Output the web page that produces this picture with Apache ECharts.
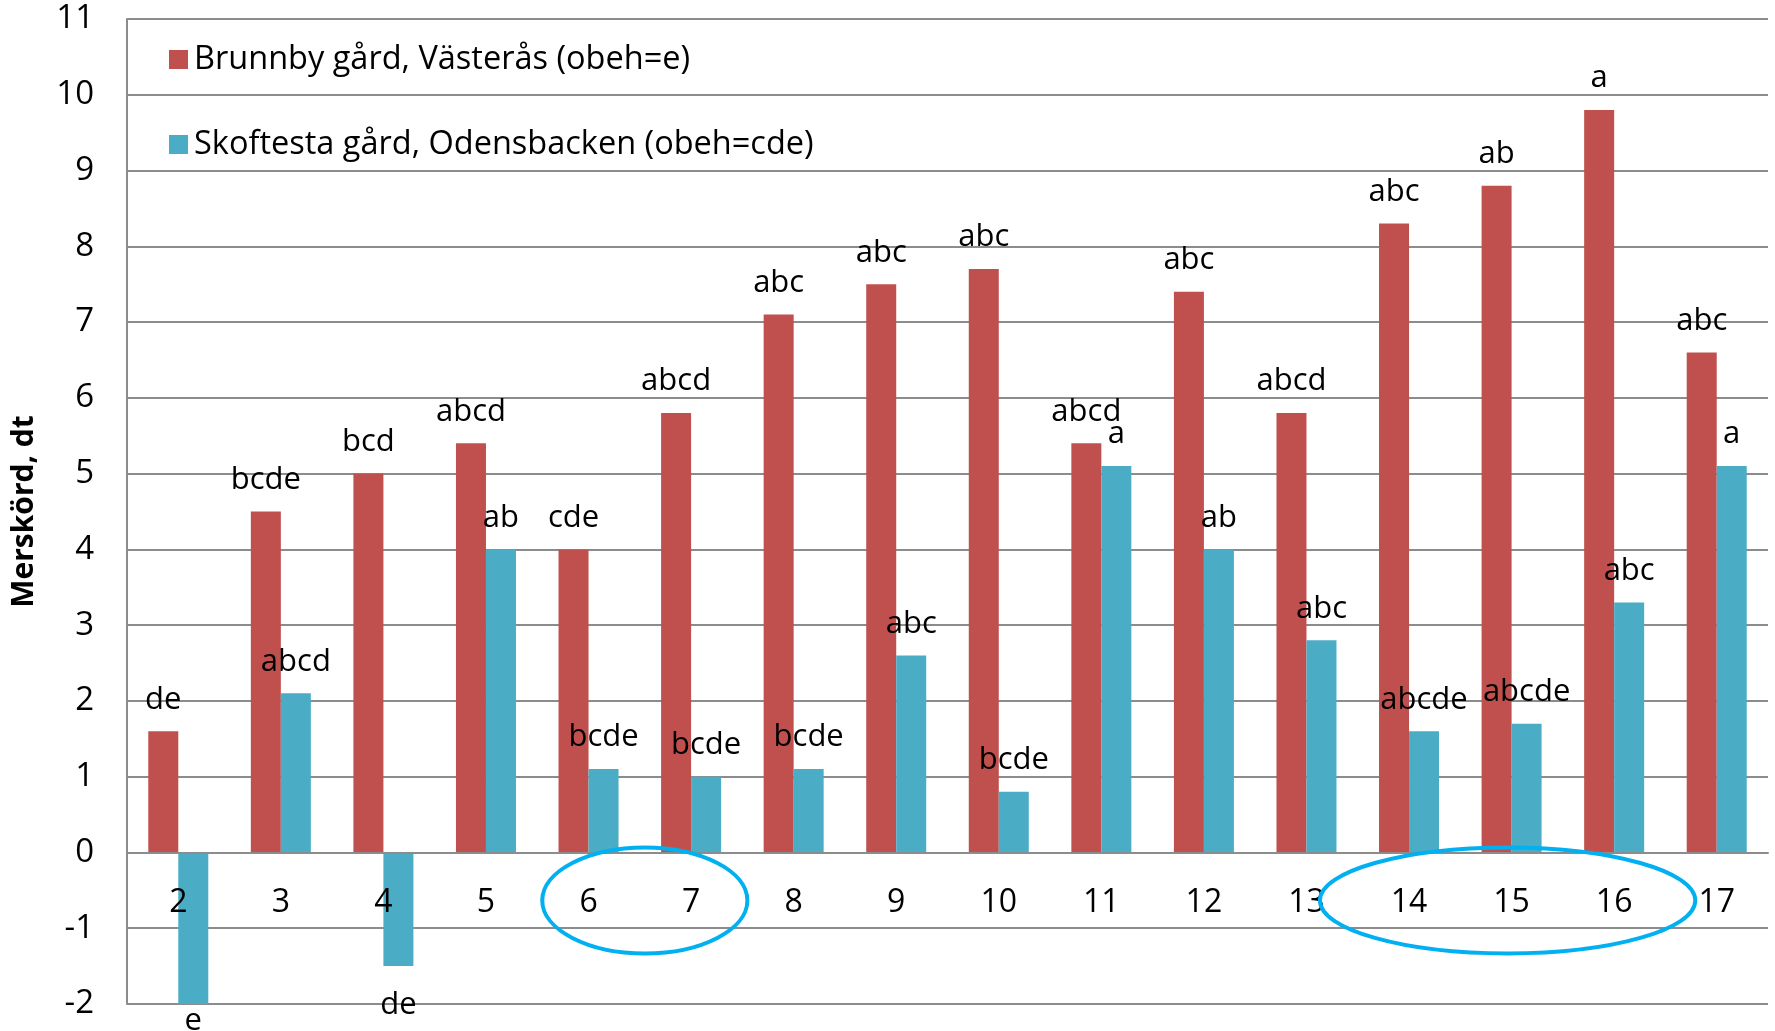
<!DOCTYPE html>
<html>
<head>
<meta charset="utf-8">
<script src="https://cdn.jsdelivr.net/npm/echarts@6/dist/echarts.min.js"></script>
<style>
  html, body { margin: 0; padding: 0; background: #fff; }
  #chart { width: 1775px; height: 1031px; }
</style>
</head>
<body>
<div id="chart"></div>
<script>
  // data
  var categories = ['2', '3', '4', '5', '6', '7', '8', '9', '10', '11', '12', '13', '14', '15', '16', '17']
  var brunnbyValues = [1.6, 4.5, 5.0, 5.4, 4.0, 5.8, 7.1, 7.5, 7.7, 5.4, 7.4, 5.8, 8.3, 8.8, 9.8, 6.6]
  var skoftestaValues = [-2.0, 2.1, -1.5, 4.0, 1.1, 1.0, 1.1, 2.6, 0.8, 5.1, 4.0, 2.8, 1.6, 1.7, 3.3, 5.1]
  var brunnbyLetters = ['de', 'bcde', 'bcd', 'abcd', 'cde', 'abcd', 'abc', 'abc', 'abc', 'abcd', 'abc', 'abcd', 'abc', 'ab', 'a', 'abc']
  var skoftestaLetters = ['e', 'abcd', 'de', 'ab', 'bcde', 'bcde', 'bcde', 'abc', 'bcde', 'a', 'ab', 'abc', 'abcde', 'abcde', 'abc', 'a']
  var seriesNames = ['Brunnby gård, Västerås (obeh=e)', 'Skoftesta gård, Odensbacken (obeh=cde)']
  // groups of categories circled below the axis
  var circledGroups = [['6', '7'], ['14', '15', '16']]

  var font = 'Open Sans'
  var red = '#C0504D'
  var blue = '#4BACC6'
  var gridColor = '#8c8c8c'
  // hand-drawn rings: extra half-width (in category steps) and small x shift
  var ringPad = [0.5, 0.83]
  var ringShift = [5, -4]

  function barData (values, letters) {
    return values.map(function (v, i) {
      var neg = v < 0
      return {
        value: v,
        label: {
          position: neg ? 'bottom' : 'top',
          distance: neg ? (v <= -2 ? 2 : 24) : 16,
          formatter: letters[i]
        }
      }
    })
  }

  var chart = echarts.init(document.getElementById('chart'))
  chart.setOption({
    backgroundColor: '#fff',
    animation: false,
    textStyle: { fontFamily: font },
    grid: { left: 127, right: 7, top: 19, bottom: 27, containLabel: false, outerBoundsMode: 'none' },
    legend: {
      orient: 'vertical',
      left: 164,
      top: 38,
      itemWidth: 19,
      itemHeight: 19,
      itemGap: 52,
      icon: 'rect',
      textStyle: { fontFamily: font, fontSize: 32.5, color: '#000', lineHeight: 32, padding: [0, 0, 0, 1] },
      data: seriesNames
    },
    xAxis: {
      type: 'category',
      data: categories,
      axisLine: { onZero: false, lineStyle: { color: gridColor, width: 2 } },
      axisTick: { show: false },
      axisLabel: { fontSize: 32, color: '#000', margin: 34, fontFamily: font },
      splitLine: { show: false },
      z: 5
    },
    yAxis: {
      type: 'value',
      min: -2,
      max: 11,
      interval: 1,
      name: 'Merskörd, dt',
      nameLocation: 'middle',
      nameGap: 88,
      nameTextStyle: { fontSize: 30, fontWeight: 'bold', color: '#000', fontFamily: font },
      axisLine: { show: true, lineStyle: { color: gridColor, width: 2 } },
      axisTick: { show: false },
      axisLabel: { fontSize: 33, color: '#000', margin: 33, fontFamily: font },
      splitLine: { show: true, lineStyle: { color: gridColor, width: 2 } }
    },
    series: [
      {
        name: seriesNames[0],
        type: 'bar',
        barWidth: 30,
        barGap: '0%',
        itemStyle: { color: red },
        label: { show: true, color: '#000', fontSize: 31, fontFamily: font },
        data: barData(brunnbyValues, brunnbyLetters),
        z: 3
      },
      {
        name: seriesNames[1],
        type: 'bar',
        barWidth: 30,
        barGap: '0%',
        itemStyle: { color: blue },
        label: { show: true, color: '#000', fontSize: 31, fontFamily: font },
        data: barData(skoftestaValues, skoftestaLetters),
        z: 3
      }
    ]
  })

  // move the category axis up to the zero line
  var zeroY = chart.convertToPixel({ yAxisIndex: 0 }, 0)
  var bottomY = chart.convertToPixel({ yAxisIndex: 0 }, -2)
  chart.setOption({ xAxis: { offset: -(bottomY - zeroY) } })

  // the blue rings drawn round some of the category labels
  var step = chart.convertToPixel({ xAxisIndex: 0 }, categories[1]) - chart.convertToPixel({ xAxisIndex: 0 }, categories[0])
  var rings = circledGroups.map(function (group, k) {
    var x0 = chart.convertToPixel({ xAxisIndex: 0 }, group[0])
    var x1 = chart.convertToPixel({ xAxisIndex: 0 }, group[group.length - 1])
    return {
      type: 'ellipse',
      shape: { cx: (x0 + x1) / 2 + ringShift[k], cy: zeroY + 48, rx: (x1 - x0) / 2 + step * ringPad[k], ry: 53 },
      style: { fill: 'none', stroke: '#00B0F0', lineWidth: 4 },
      z: 10
    }
  })
  chart.setOption({ graphic: rings })
</script>
</body>
</html>
